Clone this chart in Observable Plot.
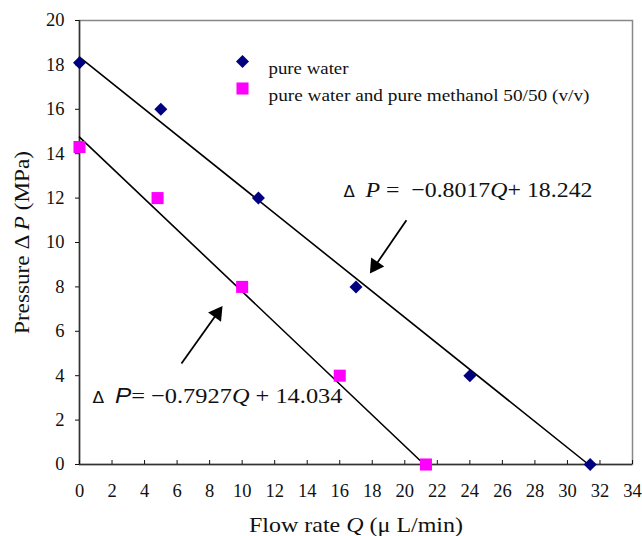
<!DOCTYPE html>
<html>
<head>
<meta charset="utf-8">
<script src="https://cdn.jsdelivr.net/npm/d3@7"></script>
<script src="https://cdn.jsdelivr.net/npm/@observablehq/plot@0.6"></script>
<style>
  html, body { margin: 0; padding: 0; background: #fff; }
  #chart { width: 642px; height: 536px; }
</style>
</head>
<body>
<div id="chart"></div>
<script>
// ---- data ----
const flowWater = [0, 5, 11, 17, 24, 31.4];
const pressWater = [18.1, 16, 12, 8, 4, 0];
const flowMix = [0, 4.8, 10, 16, 21.3];
const pressMix = [14.3, 12, 8, 4, 0];
// fitted lines (end points as drawn in the reference)
const fitWaterQ = [0, 31.3];
const fitWaterP = [18.35, 0];
const fitMixQ = [0, 21.2];
const fitMixP = [14.75, 0];
const xTicks = [0, 2, 4, 6, 8, 10, 12, 14, 16, 18, 20, 22, 24, 26, 28, 30, 32, 34];
const yTicks = [0, 2, 4, 6, 8, 10, 12, 14, 16, 18, 20];
const seriesNames = ["pure water", "pure water and pure methanol 50/50 (v/v)"];
const colors = ["#000080", "#ff00ff"];
const xLabel = "Flow rate Q (μ L/min)";
const yLabel = "Pressure Δ P (MPa)";
// annotations: equation text anchors (baseline) and arrows (data units)
const eqWaterParts = [["Δ  ", "delta"], ["P", "it"], [" =  −0.8017", ""], ["Q", "it"], ["+ 18.242", ""]];
const eqMixParts = [["Δ  ", "delta"], ["P", "itsans"], ["= −0.7927", ""], ["Q", "it"], [" + 14.034", ""]];
const eqAnchorQ = [16.23, 0.80];
const eqAnchorP = [12.03, 2.79];
const arrowFromQ = [20.1, 6.27], arrowFromP = [11.0, 4.55];
const arrowToQ = [17.85, 8.8], arrowToP = [8.6, 7.15];

const W = 642, H = 536, ML = 79, MR = 10, MT = 20, MB = 72;
const xDom = [0, 34], yDom = [0, 20];
const kx = (W - ML - MR) / (xDom[1] - xDom[0]);   // px per Q unit
const ky = (H - MT - MB) / (yDom[1] - yDom[0]);   // px per P unit

const waterData = flowWater.map((q, i) => ({q, p: pressWater[i]}));
const mixData = flowMix.map((q, i) => ({q, p: pressMix[i]}));
const fitWater = fitWaterQ.map((q, i) => ({q, p: fitWaterP[i]}));
const fitMix = fitMixQ.map((q, i) => ({q, p: fitMixP[i]}));
const eqs = [eqWaterParts, eqMixParts].map((parts, i) => ({
  q: eqAnchorQ[i], p: eqAnchorP[i], text: parts.map(d => d[0]).join(""), parts
}));
// arrows: shaft ends at the base of a filled triangular head
const headLen = 14, headR = 5.9;
const arrows = arrowFromQ.map((q, i) => {
  const dxp = (arrowToQ[i] - q) * kx, dyp = -(arrowToP[i] - arrowFromP[i]) * ky;
  const len = Math.hypot(dxp, dyp), ux = dxp / len, uy = dyp / len;
  const back = (s) => ({q: arrowToQ[i] - ux * s / kx, p: arrowToP[i] + uy * s / ky});
  const base = back(headLen * 0.9);
  const center = back(headLen * 2 / 3);
  return {q1: q, p1: arrowFromP[i], q2: base.q, p2: base.p, hq: center.q, hp: center.p,
          rot: Math.atan2(ux, -uy) * 180 / Math.PI};
});

const serif = "'Liberation Serif', 'Times New Roman', serif";

const plot = Plot.plot({
  width: W,
  height: H,
  marginLeft: ML,
  marginRight: MR,
  marginTop: MT,
  marginBottom: MB,
  style: {fontFamily: serif, fontSize: "18px", color: "#111", background: "#fff"},
  x: {domain: xDom, ticks: xTicks},
  y: {domain: yDom, ticks: yTicks},
  marks: [
    Plot.frame({stroke: "#888", strokeWidth: 1.5}),
    Plot.ruleY([0], {stroke: "#333", strokeWidth: 1.5}),
    Plot.ruleX([0], {stroke: "#333", strokeWidth: 1.5}),
    Plot.axisX({ticks: xTicks, tickSize: -4, tickPadding: 23, fontSize: 18.5, fontFamily: serif,
      label: xLabel, labelAnchor: "center", labelOffset: 67, labelArrow: "none"}),
    Plot.axisY({ticks: yTicks, tickSize: 4, tickPadding: 11, fontSize: 18.5, fontFamily: serif,
      label: yLabel, labelAnchor: "center", labelOffset: 66, labelArrow: "none"}),
    Plot.line(fitWater, {x: "q", y: "p", stroke: "#000", strokeWidth: 1.6}),
    Plot.line(fitMix, {x: "q", y: "p", stroke: "#000", strokeWidth: 1.6}),
    Plot.dot(waterData, {x: "q", y: "p", symbol: "square", r: 5.2, rotate: 45, fill: colors[0], stroke: "none"}),
    Plot.dot(mixData, {x: "q", y: "p", symbol: "square", r: 6.8, fill: colors[1], stroke: "none"}),
    Plot.link(arrows, {x1: "q1", y1: "p1", x2: "q2", y2: "p2", stroke: "#000", strokeWidth: 1.8}),
    Plot.dot(arrows, {x: "hq", y: "hp", symbol: "triangle", r: headR, rotate: "rot", fill: "#000", stroke: "none"}),
    Plot.text(eqs, {x: "q", y: "p", text: "text", textAnchor: "start", lineAnchor: "bottom",
      fontSize: 21.5, fontFamily: serif, fill: "#111"}),
    // legend (inside plot area, top)
    Plot.dot([seriesNames[0]], {frameAnchor: "top-left", dx: 163, dy: 41, symbol: "square",
      r: 5.2, rotate: 45, fill: colors[0], stroke: "none"}),
    Plot.dot([seriesNames[1]], {frameAnchor: "top-left", dx: 163, dy: 68, symbol: "square",
      r: 6.8, fill: colors[1], stroke: "none"}),
    Plot.text([seriesNames[0]], {frameAnchor: "top-left", dx: 189, dy: 41,
      text: d => d, textAnchor: "start", fontSize: 17, fontFamily: serif, fill: "#111"}),
    Plot.text([seriesNames[1]], {frameAnchor: "top-left", dx: 189, dy: 68,
      text: d => d, textAnchor: "start", fontSize: 17, fontFamily: serif, fill: "#111"})
  ]
});

// style inner parts of equation / label texts (italic P and Q, small delta)
function styleText(t, parts) {
  t.textContent = "";
  for (const [s, kind] of parts) {
    const ts = document.createElementNS("http://www.w3.org/2000/svg", "tspan");
    ts.textContent = s;
    ts.setAttribute("font-family", serif);
    if (kind === "it") ts.setAttribute("font-style", "italic");
    if (kind === "itsans") { ts.setAttribute("font-style", "italic"); ts.setAttribute("font-family", "'Liberation Sans', Arial, sans-serif"); }
    if (kind === "delta") { ts.setAttribute("font-size", "15"); ts.setAttribute("font-family", "'DejaVu Sans', sans-serif"); }
    t.appendChild(ts);
  }
}
// the reference's lettering is slightly wide: stretch glyphs to the measured widths
function fitWidth(t, px) {
  t.setAttribute("textLength", px);
  t.setAttribute("lengthAdjust", "spacingAndGlyphs");
}
const labelParts = {
  [xLabel]: [["Flow rate ", ""], ["Q", "it"], [" (μ L/min)", ""]],
  [yLabel]: [["Pressure ", ""], ["Δ ", ""], ["P", "it"], [" (MPa)", ""]]
};
// widths measured on the reference (px)
const textWidths = {[xLabel]: 214, [yLabel]: 183, [seriesNames[0]]: 80, [seriesNames[1]]: 321,
  [eqs[0].text]: 249, [eqs[1].text]: 250};
plot.querySelectorAll("text").forEach(t => {
  const s = t.textContent;
  const eq = eqs.find(e => e.text === s);
  if (eq) styleText(t, eq.parts);
  else if (labelParts[s]) { styleText(t, labelParts[s]); t.setAttribute("font-size", "21.5"); }
  if (textWidths[s]) fitWidth(t, textWidths[s]);
});
document.getElementById("chart").appendChild(plot);
</script>
</body>
</html>
